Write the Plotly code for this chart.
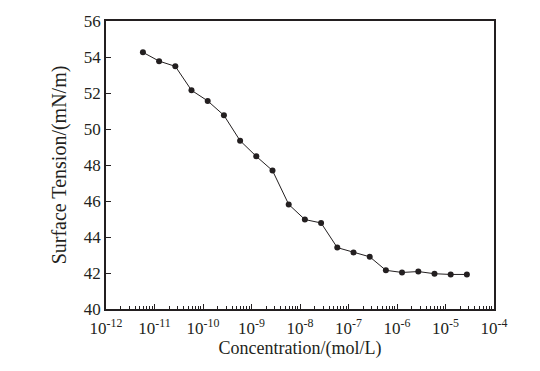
import plotly.graph_objects as go

# Data
concentration = [5.77e-12, 1.245e-11, 2.69e-11, 5.79e-11, 1.25e-10, 2.70e-10, 5.82e-10,
                 1.256e-9, 2.71e-9, 5.85e-9, 1.26e-8, 2.72e-8, 5.87e-8, 1.27e-7,
                 2.74e-7, 5.90e-7, 1.27e-6, 2.75e-6, 5.93e-6, 1.28e-5, 2.76e-5]
surface_tension = [54.26, 53.77, 53.48, 52.15, 51.56, 50.76, 49.35, 48.48, 47.69, 45.81,
                   44.97, 44.78, 43.41, 43.14, 42.90, 42.15, 42.03, 42.08, 41.96, 41.92, 41.92]

x_tick_vals = [1e-12, 1e-11, 1e-10, 1e-9, 1e-8, 1e-7, 1e-6, 1e-5, 1e-4]
x_tick_text = ["10<sup>-12</sup>", "10<sup>-11</sup>", "10<sup>-10</sup>", "10<sup>-9</sup>",
               "10<sup>-8</sup>", "10<sup>-7</sup>", "10<sup>-6</sup>", "10<sup>-5</sup>",
               "10<sup>-4</sup>"]

ink = "#231f20"
font = "Liberation Serif, Times New Roman, serif"

fig = go.Figure(go.Scatter(
    x=concentration, y=surface_tension, mode="lines+markers",
    line=dict(color=ink, width=1),
    marker=dict(color=ink, size=6),
    showlegend=False,
))

fig.update_layout(
    width=540, height=371,
    margin=dict(l=106, r=46, t=16, b=62),
    paper_bgcolor="white", plot_bgcolor="white",
    font=dict(family=font, size=17, color=ink),
)
fig.update_xaxes(
    type="log", range=[-12, -4],
    tickmode="array", tickvals=x_tick_vals, ticktext=x_tick_text,
    ticks="inside", ticklen=5, tickcolor=ink, tickwidth=1,
    minor=dict(ticks="inside", ticklen=3, dtick="D1", tickcolor=ink, showgrid=False),
    showline=True, linecolor=ink, linewidth=1.5, mirror=True,
    showgrid=False, zeroline=False,
    ticklabelstandoff=3,
    title=dict(text="Concentration/(mol/L)", font=dict(size=18), standoff=4),
    tickfont=dict(size=17),
)
fig.update_yaxes(
    range=[40, 56], dtick=2,
    ticks="inside", ticklen=5, tickcolor=ink, tickwidth=1,
    showline=True, linecolor=ink, linewidth=1.5, mirror=True,
    showgrid=False, zeroline=False,
    title=dict(text="Surface Tension/(mN/m)", font=dict(size=20), standoff=12),
    tickfont=dict(size=17),
)

fig.write_html("out.html", config={"displayModeBar": False},
               post_script="document.body.style.margin='0';")
